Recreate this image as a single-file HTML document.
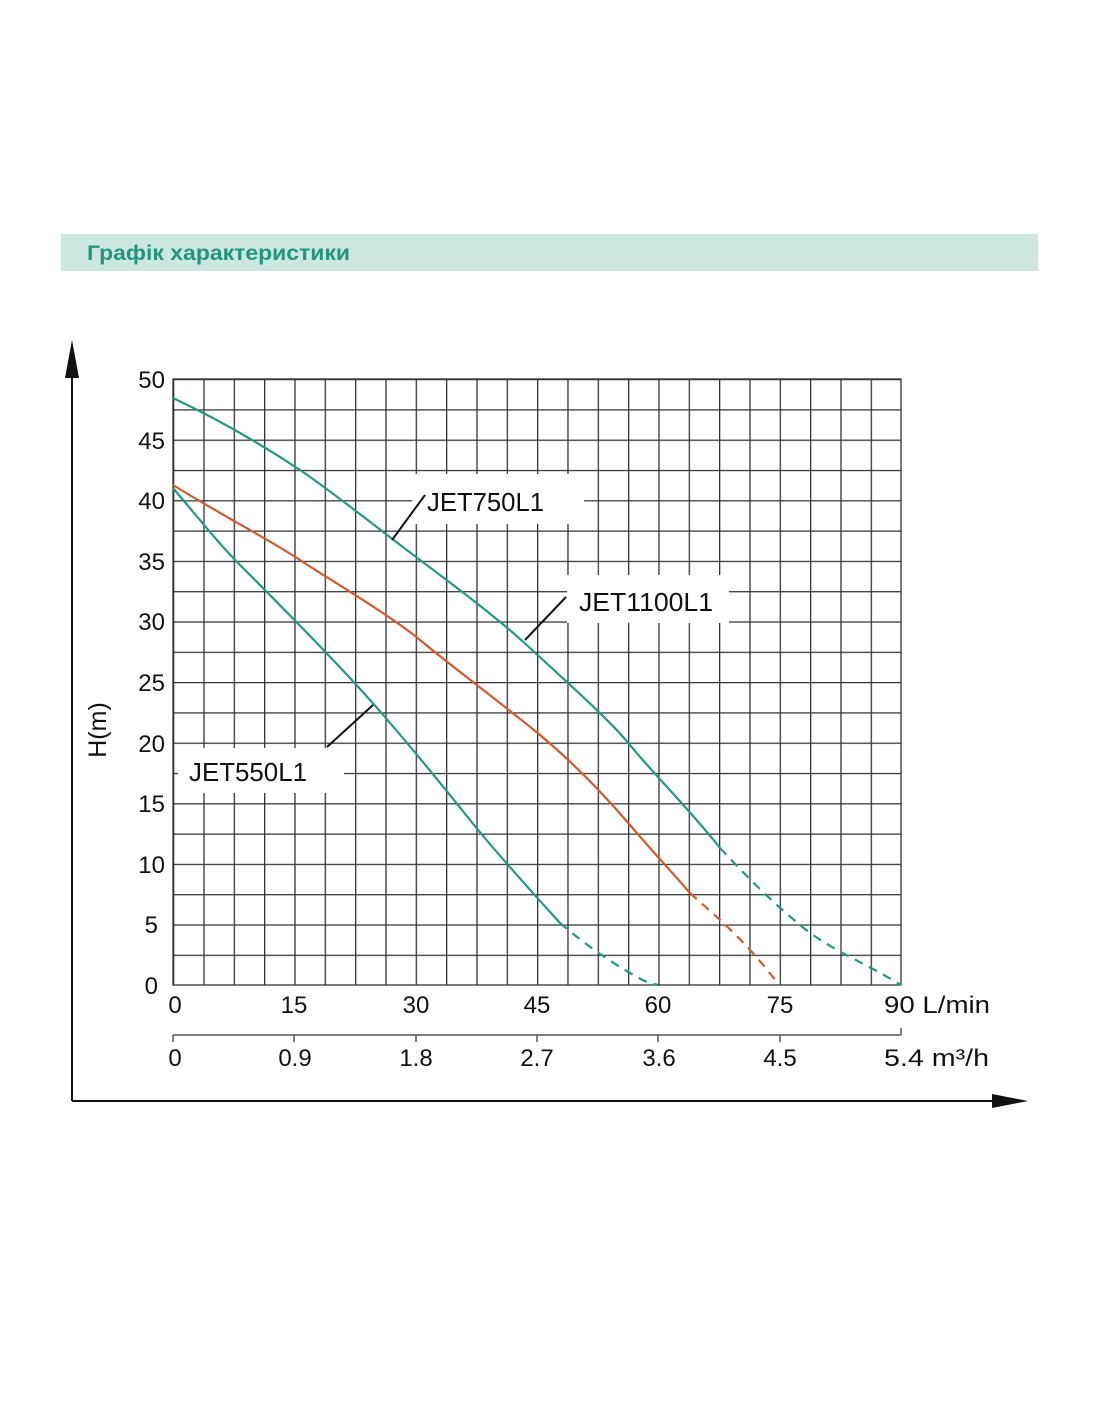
<!DOCTYPE html>
<html><head><meta charset="utf-8"><style>
body{margin:0;background:#fff;width:1100px;height:1422px;overflow:hidden;}
svg{display:block}
</style></head><body>
<svg width="1100" height="1422" xmlns="http://www.w3.org/2000/svg" font-family="Liberation Sans, DejaVu Sans, sans-serif">
<defs>
<pattern id="gp" x="173" y="379" width="30.3333" height="30.3" patternUnits="userSpaceOnUse">
<path d="M0,0 H30.3333 M0,0 V30.3" stroke="#333" stroke-width="2.6" fill="none"/>
</pattern>
</defs>
<rect x="61" y="234" width="977" height="37" fill="#cbe7e0"/>
<text x="87" y="260" font-size="21" font-weight="bold" fill="#23957f" textLength="263" lengthAdjust="spacingAndGlyphs">Графік характеристики</text>
<rect x="173" y="379" width="728" height="606" fill="url(#gp)"/>
<rect x="173" y="379" width="728" height="606" fill="none" stroke="#333" stroke-width="1.3"/>
<rect x="412" y="474" width="172" height="50" fill="#fff"/>
<rect x="567" y="575" width="162" height="48" fill="#fff"/>
<rect x="178" y="748" width="166" height="45" fill="#fff"/>
<g fill="none" stroke-width="2.2">
<path d="M173,398 C230,425 270,450 300,470 S380,530 420,560 S500,620 530,648 S610,720 630,745 S690,810 720,848" stroke="#1f9a86"/>
<path d="M720,848 C750,880 770,900 800,925 S860,960 901,985" stroke="#1f9a86" stroke-dasharray="9,7"/>
<path d="M173,485 C230,520 270,540 300,560 S390,615 420,640 S510,710 540,735 S600,790 630,825 S670,870 690,893" stroke="#d45a2a"/>
<path d="M690,893 C720,920 745,940 779,985" stroke="#d45a2a" stroke-dasharray="9,7"/>
<path d="M173,488 C200,520 220,545 240,565 S330,655 370,700 S450,795 470,820 S530,890 560,923" stroke="#1f9a86"/>
<path d="M560,923 C580,940 600,955 625,970 S650,983 658,985" stroke="#1f9a86" stroke-dasharray="9,7"/>
</g>
<g stroke="#111" stroke-width="2">
<line x1="425" y1="495" x2="392" y2="540"/>
<line x1="566" y1="597" x2="525" y2="640"/>
<line x1="327" y1="747" x2="373" y2="705"/>
</g>
<g font-size="26" fill="#111">
<text x="427" y="511" textLength="117" lengthAdjust="spacingAndGlyphs">JET750L1</text>
<text x="579" y="611" textLength="134" lengthAdjust="spacingAndGlyphs">JET1100L1</text>
<text x="189" y="781" textLength="118" lengthAdjust="spacingAndGlyphs">JET550L1</text>
</g>
<g font-size="24" fill="#111" text-anchor="end">
<text x="165" y="388">50</text><text x="165" y="449">45</text><text x="165" y="509">40</text><text x="165" y="570">35</text><text x="165" y="630">30</text><text x="165" y="691">25</text><text x="165" y="752">20</text><text x="165" y="812">15</text><text x="165" y="873">10</text><text x="158" y="933">5</text><text x="158" y="994">0</text>
</g>
<g font-size="24" fill="#111" text-anchor="middle">
<text x="175" y="1013">0</text><text x="294" y="1013">15</text><text x="416" y="1013">30</text><text x="537" y="1013">45</text><text x="658" y="1013">60</text><text x="780" y="1013">75</text>
<text x="175" y="1066">0</text><text x="295" y="1066">0.9</text><text x="416" y="1066">1.8</text><text x="537" y="1066">2.7</text><text x="659" y="1066">3.6</text><text x="780" y="1066">4.5</text>
</g>
<g font-size="24" fill="#111"><text x="884" y="1013" textLength="106" lengthAdjust="spacingAndGlyphs">90 L/min</text><text x="884" y="1066" textLength="105" lengthAdjust="spacingAndGlyphs">5.4 m³/h</text></g>
<g stroke="#555" stroke-width="1.5">
<line x1="173" y1="1035" x2="901" y2="1035"/>
<line x1="173" y1="1035" x2="173" y2="1042"/><line x1="294" y1="1035" x2="294" y2="1042"/><line x1="416" y1="1035" x2="416" y2="1042"/><line x1="537" y1="1035" x2="537" y2="1042"/><line x1="658" y1="1035" x2="658" y2="1042"/><line x1="780" y1="1035" x2="780" y2="1042"/><line x1="901" y1="1028" x2="901" y2="1035"/>
</g>
<g stroke="#111" stroke-width="2"><line x1="72" y1="370" x2="72" y2="1101"/><line x1="72" y1="1101" x2="1000" y2="1101"/></g>
<polygon points="72,340 65,378 79,378" fill="#111"/>
<polygon points="1028,1101 992,1094 992,1108" fill="#111"/>
<text transform="translate(106,730) rotate(-90)" font-size="25" fill="#111" text-anchor="middle">H(m)</text>
</svg>
</body></html>
